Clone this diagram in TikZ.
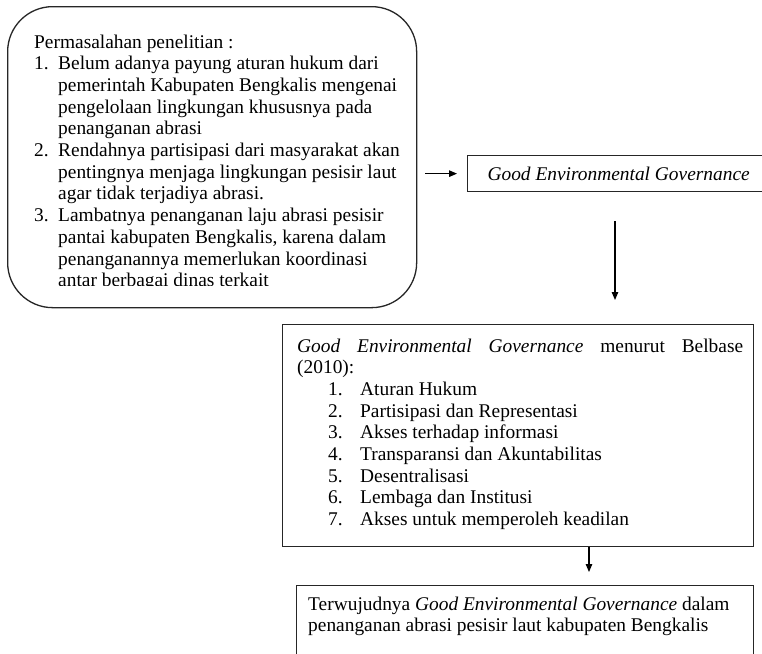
\documentclass[tikz,border=0pt]{standalone}
\usepackage{fontspec}
\setmainfont{Liberation Serif}
\usetikzlibrary{arrows.meta}
\tikzset{
  boxline/.style={draw=black!85, line width=1.3pt, inner sep=0pt, anchor=north west},
  arr/.style={-{Triangle[length=8pt,width=6.5pt]}, line width=1.1pt},
  txt/.style={inner sep=0pt, font=\fontsize{19.4}{21.7}\selectfont},
}
\begin{document}
\begin{tikzpicture}[x=1pt,y=-1pt]
\clip (0,0) rectangle (762,653);
\fill[white] (0,0) rectangle (762,653);
% box 1
\node[boxline, rounded corners=45pt, minimum width=409pt, minimum height=301pt] (b1) at (7,6) {};
\begin{scope}
\clip (0,0) rectangle (762,285);
\node[txt, anchor=base west] (t1) at (34,48) {\begin{tabular}[t]{@{}p{24pt}@{}l@{}}
\multicolumn{2}{@{}l@{}}{Permasalahan penelitian :}\\
1. & Belum adanya payung aturan hukum dari\\
 & pemerintah Kabupaten Bengkalis mengenai\\
 & pengelolaan lingkungan khususnya pada\\
 & penanganan abrasi\\
2. & Rendahnya partisipasi dari masyarakat akan\\
 & pentingnya menjaga lingkungan pesisir laut\\
 & agar tidak terjadiya abrasi.\\
3. & Lambatnya penanganan laju abrasi pesisir\\
 & pantai kabupaten Bengkalis, karena dalam\\
 & penanganannya memerlukan koordinasi\\
 & antar berbagai dinas terkait
\end{tabular}};
\end{scope}
% GEG box
\node[boxline, minimum width=302pt, minimum height=36pt] (geg) at (467,155) {};
\node[txt, font=\fontsize{19.4}{21.7}\selectfont\itshape] (gegt) at (geg.center) {Good Environmental Governance};
% box 2
\node[boxline, minimum width=471pt, minimum height=222pt] (b2) at (282,324) {};
\node[txt, anchor=base west] (t2) at (297,352) {\begin{tabular}[t]{@{}p{31pt}@{}p{32pt}@{}l@{}}
\multicolumn{3}{@{}l@{}}{\makebox[446pt][s]{\textit{Good} \textit{Environmental} \textit{Governance} menurut Belbase}}\\
\multicolumn{3}{@{}l@{}}{(2010):}\\
 & 1. & Aturan Hukum\\
 & 2. & Partisipasi dan Representasi\\
 & 3. & Akses terhadap informasi\\
 & 4. & Transparansi dan Akuntabilitas\\
 & 5. & Desentralisasi\\
 & 6. & Lembaga dan Institusi\\
 & 7. & Akses untuk memperoleh keadilan
\end{tabular}};
% box 3
\node[boxline, minimum width=457pt, minimum height=90pt] (b3) at (296,585) {};
\node[txt, anchor=base west] (t3) at (308,610) {\begin{tabular}[t]{@{}l@{}}
Terwujudnya \textit{Good Environmental Governance} dalam\\
penanganan abrasi pesisir laut kabupaten Bengkalis
\end{tabular}};
% connectors
\coordinate (vx) at (615,0);
\coordinate (vx2) at (589,0);
\draw[arr, shorten <=8pt, shorten >=10pt] (b1.east |- geg.west) -- (geg.west);
\draw[arr, shorten <=29pt, shorten >=24pt] (geg.south -| vx) -- (b2.north -| vx);
\draw[arr, shorten >=13pt] (b2.south -| vx2) -- (b3.north -| vx2);
\end{tikzpicture}
\end{document}
